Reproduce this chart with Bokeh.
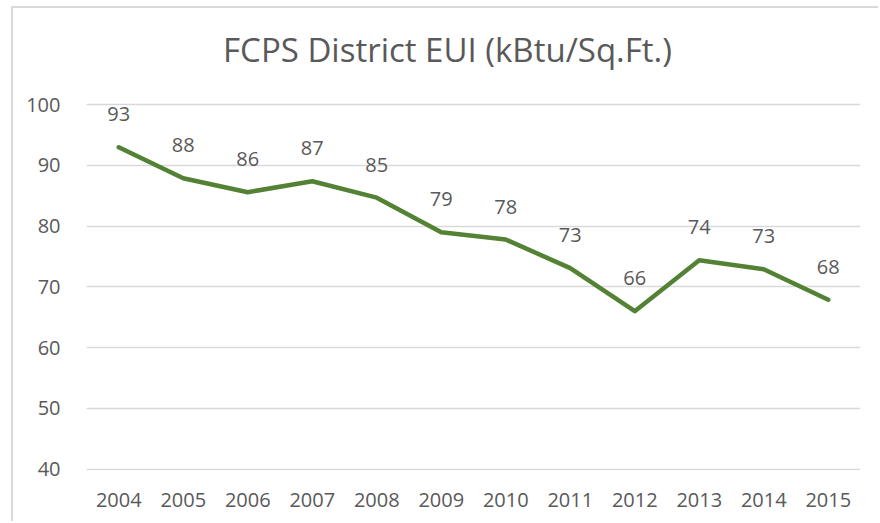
from bokeh.plotting import figure
from bokeh.models import ColumnDataSource, LabelSet, Label, Range1d, FixedTicker
from bokeh.core.properties import value
from bokeh.embed import file_html
from bokeh.resources import INLINE

years = ["2004", "2005", "2006", "2007", "2008", "2009", "2010", "2011", "2012", "2013", "2014", "2015"]
eui = [93.0, 87.9, 85.6, 87.4, 84.7, 79.0, 77.8, 73.1, 66.0, 74.4, 72.9, 67.9]
labels = ["93", "88", "86", "87", "85", "79", "78", "73", "66", "74", "73", "68"]
y_ticks = [40, 50, 60, 70, 80, 90, 100]
title_text = "FCPS District EUI (kBtu/Sq.Ft.)"

FONT = "Open Sans"
TXT = "#595959"
GREEN = "#548235"

W, H = 867, 515

src = ColumnDataSource(dict(year=years, eui=eui, label=labels))

# frame extends above the top tick so the title can sit inside it
p = figure(x_range=years, y_range=Range1d(39.77, 114.2), width=W, height=H,
           output_backend="svg", toolbar_location=None)
p.min_border_left = 73
p.min_border_right = 20
p.min_border_top = 10
p.min_border_bottom = 53
p.outline_line_color = None
p.background_fill_color = "white"
p.border_fill_color = "white"
p.styles = {"border-left": "2px solid #d9d9d9", "border-top": "2px solid #d9d9d9",
            "margin-left": "11px", "margin-top": "6px"}

title = Label(x=361, y=421.5, x_units="screen", y_units="screen", text=title_text,
              text_align="center", text_baseline="alphabetic",
              text_font=FONT, text_font_size="33px", text_color=TXT)
p.add_layout(title)

p.line("year", "eui", source=src, line_color=GREEN, line_width=4.5,
       line_join="round", line_cap="round")

lbl = LabelSet(x="year", y="eui", text="label", source=src, y_offset=26,
               text_align="center", text_baseline="alphabetic",
               text_font=value(FONT), text_font_size="20px", text_color=TXT)
p.add_layout(lbl)

p.yaxis.ticker = FixedTicker(ticks=y_ticks)
for ax in (p.xaxis[0], p.yaxis[0]):
    ax.axis_line_color = None
    ax.major_tick_line_color = None
    ax.minor_tick_line_color = None
    ax.major_label_text_font = FONT
    ax.major_label_text_font_size = "20px"
    ax.major_label_text_color = TXT
p.yaxis.major_label_standoff = 20
p.xaxis.major_label_standoff = 16

p.xgrid.grid_line_color = None
p.ygrid.grid_line_color = "#d9d9d9"
p.ygrid.grid_line_width = 1.5
p.x_range.range_padding = 0

open("out.html", "w").write(file_html(p, INLINE))
